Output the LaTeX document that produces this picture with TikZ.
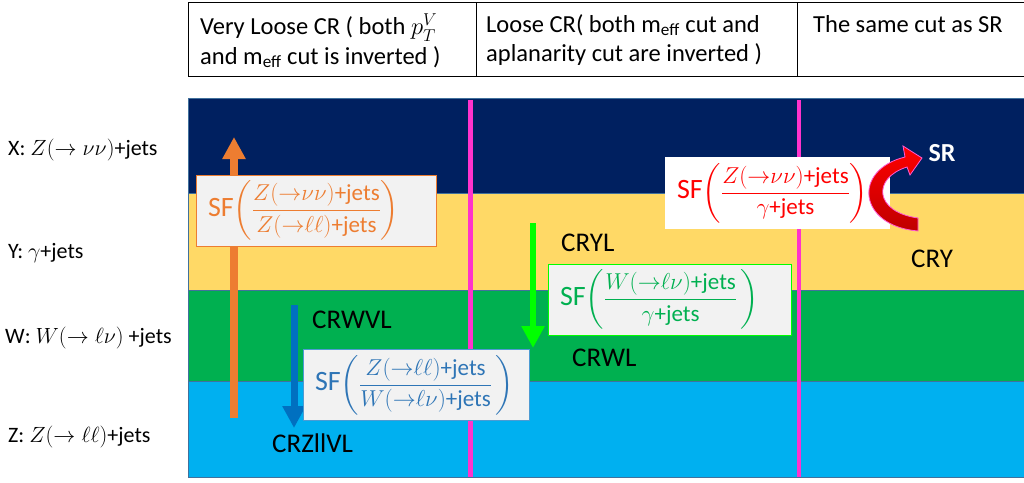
\RequirePackage{fix-cm}
\documentclass[tikz,border=0pt]{standalone}
\usepackage{amsmath}
\usepackage{fontspec}
\setmainfont{Carlito}
\usetikzlibrary{arrows.meta,positioning}
\definecolor{bandnavy}{HTML}{002060}
\definecolor{bandyellow}{HTML}{FFD966}
\definecolor{bandgreen}{HTML}{00B050}
\definecolor{bandcyan}{HTML}{00B0F0}
\definecolor{bandedge}{HTML}{41719C}
\definecolor{cutpink}{HTML}{FF33CC}
\definecolor{sforange}{HTML}{ED7D31}
\definecolor{sfblue}{HTML}{0070C0}
\definecolor{sfbluetext}{HTML}{2E75B6}
\definecolor{sfgreen}{HTML}{00FF00}
\definecolor{sfgreentext}{HTML}{00B050}
\definecolor{boxgray}{HTML}{F2F2F2}
\newcommand{\sfname}{{\fontsize{28}{32}\selectfont SF}}

\begin{document}
\begin{tikzpicture}[x=1pt, y=-1pt,
  band/.style={draw=bandedge, line width=0.8pt},
  cutline/.style={cutpink, line width=4.5pt},
  hdtext/.style={anchor=north west, inner sep=0pt, align=left, font=\fontsize{24.5}{29.5}\selectfont},
  sidelabel/.style={anchor=west, inner sep=0pt, font=\fontsize{22}{26}\selectfont},
  crlabel/.style={anchor=west, inner sep=0pt, font=\fontsize{27}{32}\selectfont},
  sfbox/.style={fill=boxgray, minimum height=71pt, inner xsep=12pt, inner ysep=2pt, align=left, font=\fontsize{23}{27}\selectfont},
  sfarrow/.style={line width=#1, -{Triangle[length=22pt, width=22pt]}}
]
\useasboundingbox (0,0) rectangle (1024,482);

% Header table
\draw[line width=0.8pt] (188,2) rectangle (476,76);
\draw[line width=0.8pt] (476,2) rectangle (797,76);
\draw[line width=0.8pt] (797,2) -- (1026,2) (797,76) -- (1026,76);
\node[hdtext] (hdVL) at (200,14) {Very Loose CR ( both $p_T^V$\\and m\textsubscript{eff} cut is inverted )};
\node[hdtext] (hdL) at (486,14) {Loose CR( both m\textsubscript{eff} cut and\\aplanarity cut are inverted )};
\node[hdtext] (hdSR) at (813,15) {The same cut as SR};

% Process bands
\path[band, fill=bandnavy] (188,98) rectangle (1026,193);
\path[band, fill=bandyellow] (188,193) rectangle (1026,290);
\path[band, fill=bandgreen] (188,290) rectangle (1026,381);
\path[band, fill=bandcyan] (188,381) rectangle (1026,477);

% Region boundaries
\draw[cutline] (470.5,100) -- (470.5,477);
\draw[cutline] (799,100) -- (799,477);

% Process labels
\node[sidelabel] (lblX) at (8,150) {X: $Z(\to\nu\nu)$+jets};
\node[sidelabel] (lblY) at (8,253) {Y: $\gamma$+jets};
\node[sidelabel] (lblW) at (5,338) {W: $W(\to\ell\nu)$ +jets};
\node[sidelabel] (lblZ) at (8,437) {Z: $Z(\to\ell\ell)$+jets};

% Transfer arrows
\coordinate (orTail) at (234,418);
\coordinate (orTip) at (234,137);
\draw[sfarrow=8pt, sforange] (orTail) -- (orTip);
\coordinate (blTail) at (294,305);
\coordinate (blTip) at (294,428);
\draw[sfarrow=7pt, sfblue] (blTail) -- (blTip);
\coordinate (grTail) at (533,223);
\coordinate (grTip) at (533,348);
\draw[sfarrow=6pt, sfgreen] (grTail) -- (grTip);

% Region labels
\node[crlabel] (crwvl) at (312,320) {CRWVL};
\node[crlabel] (crzllvl) at (272,443) {CRZllVL};
\node[crlabel] (cryl) at (561,243) {CRYL};
\node[crlabel] (crwl) at (572,358) {CRWL};
\node[crlabel] (cry) at (911,259) {CRY};
\node[anchor=center, inner sep=0pt, text=white, font=\fontsize{26}{30}\selectfont\bfseries] (sr) at (942,153) {SR};

% Scale factor boxes
\node[sfbox, draw=sforange, text=sforange, text width=216pt] (sfZnn) at (316,210.5)
  {\sfname$\left(\dfrac{Z({\to}\nu\nu)\text{+jets}}{Z({\to}\ell\ell)\text{+jets}}\right)$};
\node[sfbox, draw=sfblue!70, text=sfbluetext, text width=202pt] (sfZll) at (416,385)
  {\sfname$\left(\dfrac{Z({\to}\ell\ell)\text{+jets}}{W({\to}\ell\nu)\text{+jets}}\,\right)$};
\node[sfbox, draw=sfgreen, text=sfgreentext, text width=219pt] (sfWln) at (669.5,299.5)
  {\sfname$\left(\dfrac{W({\to}\ell\nu)\text{+jets}}{\gamma\text{+jets}}\,\right)$};
\node[sfbox, fill=white, text=red, text width=201pt, minimum height=72pt] (sfGam) at (777.5,193)
  {\sfname$\left(\dfrac{Z({\to}\nu\nu)\text{+jets}}{\gamma\text{+jets}}\right)$};

% Curved arrow into SR
\shade[top color=red, bottom color=red!75!black, draw=cutpink!80, line width=0.8pt]
  (918,231) .. controls (858,226) and (852,170) .. (905,157)
  -- (903,146) -- (922,158) -- (910,175) -- (907,167)
  .. controls (872,178) and (874,212) .. (918,218) -- cycle;

\end{tikzpicture}
\end{document}
